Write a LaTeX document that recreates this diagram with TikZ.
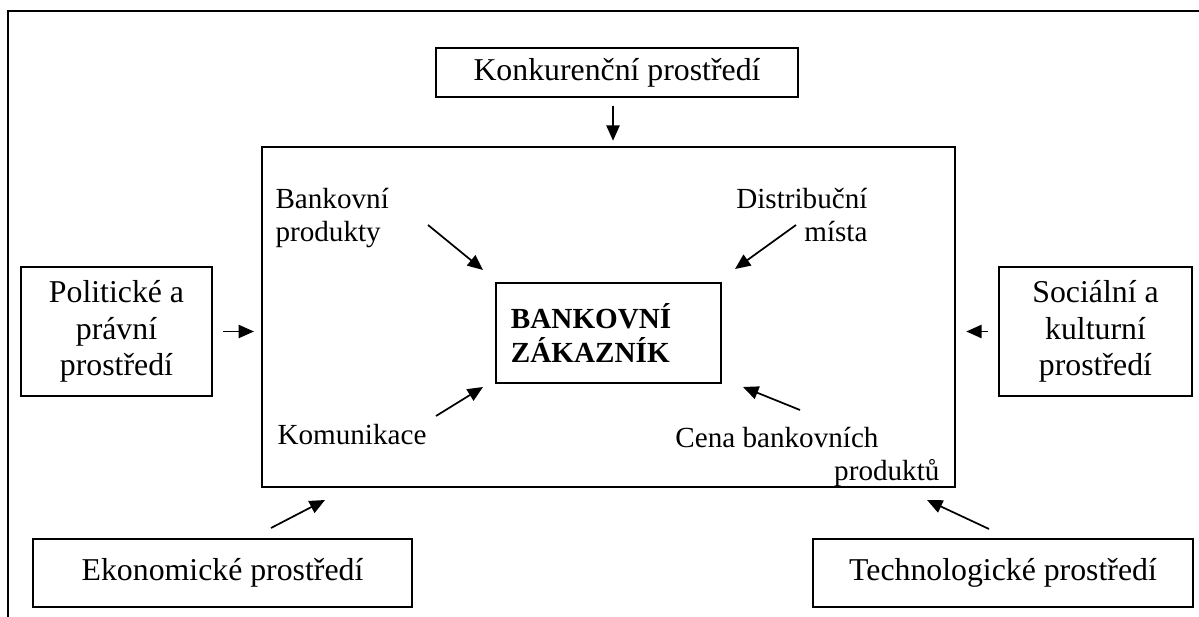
\documentclass[tikz,border=0pt]{standalone}
\usepackage{fontspec}
\setmainfont{Liberation Serif}
\usetikzlibrary{arrows.meta,positioning}

\tikzset{
  envbox/.style={draw, line width=0.6pt, inner sep=0pt, align=center,
    font=\fontsize{12}{13.8}\selectfont},
  lbl/.style={inner sep=0pt, font=\fontsize{11}{12.65}\selectfont},
  arr/.style={line width=0.65pt, -{Triangle[length=5.8pt,width=5pt]}},
}

\begin{document}
\begin{tikzpicture}[x=0.3774pt, y=-0.3774pt]
  \useasboundingbox (0,0) rectangle (1199,617);
  % ── Outer frame ──────────────────────────────
  \draw[line width=0.95pt] (8,617) -- (8,11) -- (1199,11);

  % ── Bank box and customer ────────────────────
  \node[draw, line width=0.95pt, minimum width=261.5pt, minimum height=128.3pt]
    (bank) at (608.5,317) {};
  \node[draw, line width=0.8pt, minimum width=84.9pt, minimum height=37.7pt,
        text width=73.6pt, inner xsep=5.66pt, align=left,
        font=\fontsize{11}{12.65}\selectfont\bfseries]
    (cust) at (608.5,333) {BANKOVNÍ\\ZÁKAZNÍK};

  % Marketing mix labels (base = last line)
  \node[lbl, anchor=base west, align=left] (prod) at (275,242)
    {Bankovní\\produkty};
  \node[lbl, anchor=base east, align=right] (dist) at (868,242)
    {Distribuční\\místa};
  \node[lbl, anchor=base west] (komu) at (277,445) {Komunikace};
  \node[lbl, anchor=base east, align=right] (cena) at (940,481)
    {Cena bankovních\hspace*{23pt}\\produktů};

  % Arrows to the customer
  \coordinate (prodS) at (428,225);  \coordinate (prodE) at (483,270);
  \coordinate (distS) at (796,225);  \coordinate (distE) at (735,269);
  \coordinate (komuS) at (436,416);  \coordinate (komuE) at (483,387);
  \coordinate (cenaS) at (800,410);  \coordinate (cenaE) at (743,387);
  \draw[arr] (prodS) -- (prodE);
  \draw[arr] (distS) -- (distE);
  \draw[arr] (komuS) -- (komuE);
  \draw[arr] (cenaS) -- (cenaE);

  % ── Environment boxes ────────────────────────
  \node[envbox, minimum width=136.6pt, minimum height=18.5pt]
    (konk) at (617,72.5) {Konkurenční prostředí};
  \node[envbox, minimum width=72.1pt, minimum height=48.7pt]
    (polit) at (116.5,331.5) {Politické a\\právní\\prostředí};
  \node[envbox, minimum width=72.8pt, minimum height=48.7pt]
    (social) at (1095.5,331.5) {Sociální a\\kulturní\\prostředí};
  \node[envbox, minimum width=143.0pt, minimum height=25.7pt]
    (ekon) at (222.5,573) {Ekonomické prostředí};
  \node[envbox, minimum width=143.4pt, minimum height=25.7pt]
    (tech) at (1003,573) {Technologické prostředí};

  % Arrows to the bank
  \draw[arr, shorten <=3pt, shorten >=1.9pt]
    ([xshift=-1.5pt]konk.south) -- ([xshift=-1.5pt]konk.south |- bank.north);
  \draw[arr, shorten <=4pt, shorten >=2.6pt] (polit) -- (polit -| bank.west);
  \draw[arr, shorten <=3.8pt, shorten >=3.8pt] (social) -- (social -| bank.east);
  \coordinate (ekonS) at (271,528);  \coordinate (ekonE) at (325,500);
  \coordinate (techS) at (989,529);  \coordinate (techE) at (927,500);
  \draw[arr] (ekonS) -- (ekonE);
  \draw[arr] (techS) -- (techE);
\end{tikzpicture}
\end{document}
